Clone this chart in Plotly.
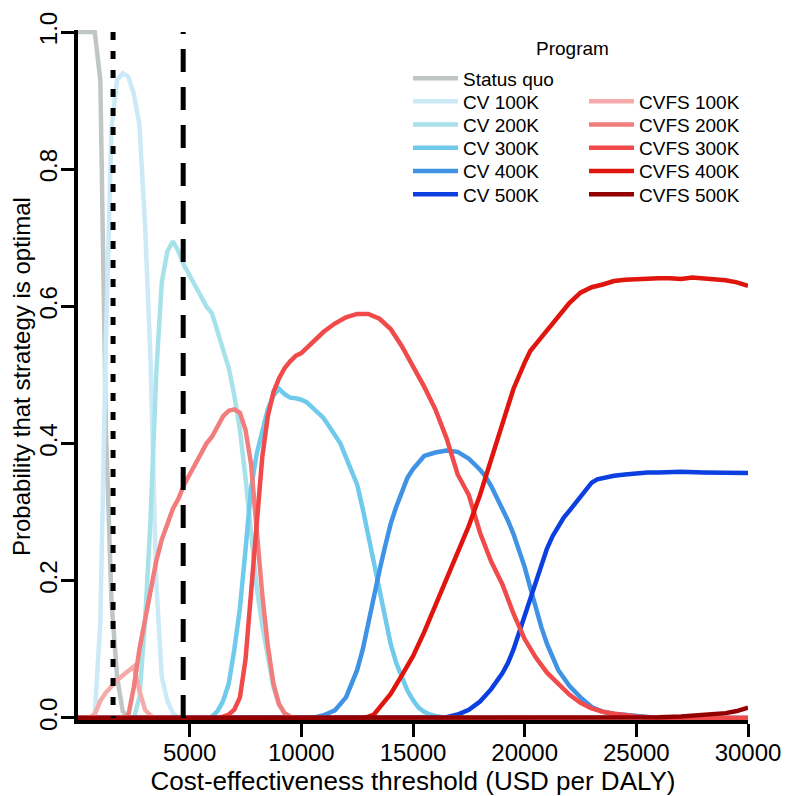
import plotly.graph_objects as go

# ---------------- data ----------------
status_quo_x = [0, 500, 750, 1000, 1250, 1500, 1750, 2000, 2250, 30000]
status_quo_y = [1, 1, 1, 0.93, 0.42, 0.17, 0.06, 0.01, 0, 0]

cv100_x = [0, 500, 750, 1000, 1250, 1500, 1750, 2000, 2250, 2500, 2750, 3000,
           3250, 3500, 3750, 4000, 4250, 4500, 30000]
cv100_y = [0, 0, 0.005, 0.14, 0.55, 0.86, 0.93, 0.94, 0.935, 0.91, 0.865, 0.72,
           0.52, 0.2, 0.06, 0.025, 0.007, 0, 0]

cv200_x = [0, 2500, 2750, 3000, 3250, 3500, 3750, 4000, 4250, 4500, 4750, 5000,
           5250, 5500, 5750, 6000, 6250, 6500, 6750, 7000, 7250, 7500, 7750,
           8000, 8250, 8500, 8750, 9000, 9250, 9500, 9750, 30000]
cv200_y = [0, 0, 0.03, 0.14, 0.29, 0.50, 0.635, 0.68, 0.695, 0.68, 0.66, 0.645,
           0.63, 0.615, 0.60, 0.59, 0.565, 0.54, 0.51, 0.47, 0.42, 0.35, 0.27,
           0.19, 0.135, 0.09, 0.045, 0.02, 0.007, 0.002, 0, 0]

cv300_x = [0, 5750, 6000, 6250, 6500, 6750, 7000, 7250, 7500, 7750, 8000, 8250,
           8500, 8750, 9000, 9250, 9500, 9750, 10000, 10250, 10500, 10750,
           11000, 11250, 11500, 11750, 12000, 12250, 12500, 12750, 13000,
           13250, 13500, 13750, 14000, 14250, 14500, 14750, 15000, 15250,
           15500, 15750, 16000, 16250, 16500, 30000]
cv300_y = [0, 0, 0.002, 0.01, 0.025, 0.05, 0.1, 0.16, 0.245, 0.335, 0.385, 0.42,
           0.45, 0.47, 0.48, 0.472, 0.467, 0.466, 0.464, 0.46, 0.452, 0.445,
           0.437, 0.425, 0.413, 0.40, 0.38, 0.36, 0.34, 0.305, 0.265,
           0.222, 0.182, 0.142, 0.108, 0.08, 0.058, 0.04, 0.026, 0.015,
           0.009, 0.005, 0.003, 0.001, 0, 0]

cv400_x = [0, 10500, 11000, 11500, 12000, 12250, 12500, 12750, 13000, 13250,
           13500, 13750, 14000, 14250, 14500, 14750, 15000, 15500, 16000, 16500,
           17000, 17500, 18000, 18250, 18500, 18750, 19000, 19250, 19500, 19750,
           20000, 20250, 20500, 20750, 21000, 21250, 21500, 22000, 22500, 23000,
           23500, 24000, 25000, 26000, 30000]
cv400_y = [0, 0, 0.004, 0.011, 0.03, 0.048, 0.07, 0.1, 0.14, 0.18,
           0.215, 0.25, 0.283, 0.308, 0.33, 0.35, 0.363, 0.382, 0.387, 0.39,
           0.388, 0.378, 0.362, 0.352, 0.338, 0.322, 0.305, 0.288, 0.268, 0.245,
           0.22, 0.19, 0.16, 0.132, 0.108, 0.088, 0.07, 0.047, 0.03, 0.016,
           0.009, 0.006, 0.003, 0, 0]

cv500_x = [0, 16250, 16500, 17000, 17500, 18000, 18500, 19000, 19250, 19500,
           19750, 20000, 20250, 20500, 20750, 21000, 21250, 21500, 21750, 22000,
           22500, 23000, 23250, 23500, 24000, 24500, 25000, 25500, 26000, 27000,
           28000, 29000, 30000]
cv500_y = [0, 0, 0.001, 0.005, 0.012, 0.024, 0.042, 0.065, 0.08, 0.1,
           0.125, 0.15, 0.175, 0.2, 0.225, 0.247, 0.265, 0.28, 0.292, 0.302,
           0.322, 0.343, 0.348, 0.35, 0.353, 0.355, 0.357, 0.358, 0.358, 0.359,
           0.358, 0.358, 0.357]

cvfs100_x = [0, 500, 750, 1000, 1250, 1500, 1750, 2000, 2250, 2500, 2750, 3000,
             3250, 3500, 30000]
cvfs100_y = [0, 0, 0.005, 0.025, 0.037, 0.047, 0.055, 0.062, 0.068, 0.075, 0.04,
             0.012, 0.003, 0, 0]

cvfs200_x = [0, 2000, 2250, 2500, 2750, 3000, 3250, 3500, 3750, 4000, 4250, 4500,
             4750, 5000, 5250, 5500, 5750, 6000, 6250, 6500, 6750, 7000, 7250,
             7500, 7750, 8000, 8250, 8500, 8750, 9000, 9250, 9500, 9750, 30000]
cvfs200_y = [0, 0, 0.003, 0.045, 0.1, 0.145, 0.19, 0.228, 0.26, 0.285, 0.305, 0.32,
             0.34, 0.355, 0.37, 0.385, 0.40, 0.41, 0.425, 0.44, 0.448, 0.45, 0.445,
             0.42, 0.37, 0.27, 0.18, 0.105, 0.05, 0.02, 0.007, 0.002, 0, 0]

cvfs300_x = [0, 6250, 6500, 6750, 7000, 7250, 7500, 7750, 8000, 8250, 8500, 8750,
             9000, 9250, 9500, 9750, 10000, 10500, 11000, 11500, 12000, 12500,
             13000, 13500, 14000, 14500, 15000, 15500, 16000, 16500, 17000, 17500,
             18000, 18500, 19000, 19500, 20000, 20500, 21000, 21500, 22000, 22500,
             23000, 23500, 24000, 25000, 26000, 30000]
cvfs300_y = [0, 0, 0.002, 0.005, 0.012, 0.03, 0.085, 0.18, 0.29, 0.38, 0.44, 0.475,
             0.495, 0.51, 0.52, 0.528, 0.532, 0.547, 0.563, 0.575, 0.584, 0.589,
             0.589, 0.582, 0.567, 0.542, 0.513, 0.483, 0.45, 0.408, 0.355, 0.325,
             0.27, 0.228, 0.195, 0.152, 0.115, 0.088, 0.066, 0.05, 0.034, 0.022,
             0.014, 0.009, 0.006, 0.002, 0, 0]

cvfs400_x = [0, 12750, 13000, 13250, 13500, 13750, 14000, 14500, 15000, 15500,
             16000, 16500, 17000, 17500, 18000, 18500, 19000, 19500, 20000, 20250,
             20500, 20750, 21000, 21500, 22000, 22500, 23000, 23500, 24000, 24500,
             25000, 25500, 26000, 26500, 27000, 27500, 28000, 28500, 29000, 29500,
             30000]
cvfs400_y = [0, 0, 0.002, 0.005, 0.015, 0.025, 0.035, 0.062, 0.09, 0.125,
             0.163, 0.203, 0.242, 0.28, 0.325, 0.375, 0.428, 0.48, 0.518, 0.535,
             0.545, 0.555, 0.566, 0.585, 0.605, 0.62, 0.628, 0.632, 0.637, 0.639,
             0.64, 0.641, 0.641, 0.641, 0.64, 0.642, 0.641, 0.64, 0.638, 0.635,
             0.63]

cvfs500_x = [0, 25000, 26000, 27000, 28000, 28500, 29000, 29500, 30000]
cvfs500_y = [0, 0, 0.001, 0.002, 0.004, 0.005, 0.007, 0.01, 0.015]

# reference thresholds (1x and 3x GDP per capita)
gdp_threshold_1x = 1570
gdp_threshold_3x = 4710

x_tick_values = [5000, 10000, 15000, 20000, 25000, 30000]
x_tick_labels = ["5000", "10000", "15000", "20000", "25000", "30000"]
y_tick_values = [0, 0.2, 0.4, 0.6, 0.8, 1.0]
y_tick_labels = ["0.0", "0.2", "0.4", "0.6", "0.8", "1.0"]

x_title = "Cost-effectiveness threshold (USD per DALY)"
y_title = "Probability that strategy is optimal"
legend_title = "Program"

# ---------------- figure ----------------
FONT = "Liberation Sans, Arial, Helvetica, sans-serif"

# (name, x, y, colour, legend column, legend row)
series = [
    ("Status quo", status_quo_x, status_quo_y, "#c0c6c6", 0, 0),
    ("CV 100K", cv100_x, cv100_y, "#cbe9f7", 0, 1),
    ("CV 200K", cv200_x, cv200_y, "#a7e2ea", 0, 2),
    ("CV 300K", cv300_x, cv300_y, "#6fcaeb", 0, 3),
    ("CV 400K", cv400_x, cv400_y, "#3f92e4", 0, 4),
    ("CV 500K", cv500_x, cv500_y, "#0c3fe0", 0, 5),
    ("CVFS 100K", cvfs100_x, cvfs100_y, "#f6abab", 1, 1),
    ("CVFS 200K", cvfs200_x, cvfs200_y, "#f17d7d", 1, 2),
    ("CVFS 300K", cvfs300_x, cvfs300_y, "#f14a4a", 1, 3),
    ("CVFS 400K", cvfs400_x, cvfs400_y, "#e0150d", 1, 4),
    ("CVFS 500K", cvfs500_x, cvfs500_y, "#920000", 1, 5),
]

# page is offset by the browser's 8px body margin; figure is sized to fit
FIG_W, FIG_H = 788, 788
M_L, M_R, M_T, M_B = 70, 48, 22, 76
PLOT_W = FIG_W - M_L - M_R
PLOT_H = FIG_H - M_T - M_B
PAGE_OFF = 8

def paper_x(page_px):
    return (page_px - PAGE_OFF - M_L) / PLOT_W

def paper_y(page_py):
    return 1 - (page_py - PAGE_OFF - M_T) / PLOT_H

LEG_COL_LEFT = [408, 584]
LEG_ROW0 = 78.8
LEG_ROW_STEP = 23.2
LEG_TOP_OFFSET = 19.5

fig = go.Figure()
legends = {}
for i, (name, xs, ys, color, col, row) in enumerate(series):
    assert len(xs) == len(ys), name
    key = "legend" if i == 0 else f"legend{i + 1}"
    fig.add_trace(go.Scatter(
        x=xs, y=ys, mode="lines", name=name, legend=key,
        line=dict(color=color, width=4.5),
    ))
    legends[key] = dict(
        x=paper_x(LEG_COL_LEFT[col]),
        y=paper_y(LEG_ROW0 + row * LEG_ROW_STEP - LEG_TOP_OFFSET),
        xanchor="left", yanchor="top",
        bgcolor="rgba(0,0,0,0)", borderwidth=0,
        font=dict(family=FONT, size=19, color="black"),
        itemwidth=45, tracegroupgap=0,
    )

fig.add_trace(go.Scatter(
    x=[gdp_threshold_1x, gdp_threshold_1x], y=[1, 0], mode="lines",
    line=dict(color="black", width=5, dash="8px,11px"), showlegend=False,
))
fig.add_trace(go.Scatter(
    x=[gdp_threshold_3x, gdp_threshold_3x], y=[0, 1], mode="lines",
    line=dict(color="black", width=5, dash="23px,15px"), showlegend=False,
))

axis_common = dict(
    showline=True, linecolor="black", linewidth=4,
    ticks="outside", ticklen=13, tickwidth=3, tickcolor="black",
    showgrid=False, zeroline=False, automargin=False,
    tickfont=dict(family=FONT, size=24, color="black"),
)

fig.update_layout(
    width=FIG_W, height=FIG_H,
    margin=dict(l=M_L, r=M_R, t=M_T, b=M_B),
    paper_bgcolor="white", plot_bgcolor="white",
    font=dict(family=FONT, color="black"),
    xaxis=dict(
        range=[0, 30000], tickvals=x_tick_values, ticktext=x_tick_labels,
        ticklabelstandoff=-5,
        title=dict(text=x_title,
                   font=dict(family=FONT, size=26, color="black"), standoff=2),
        **axis_common,
    ),
    yaxis=dict(
        range=[-0.003, 1.003], tickvals=y_tick_values, ticktext=y_tick_labels,
        tickangle=-90, ticklabelstandoff=-6,
        **axis_common,
    ),
    annotations=[
        dict(
            text=legend_title, xref="paper", yref="paper",
            x=paper_x(572), y=paper_y(49),
            xanchor="center", yanchor="middle", showarrow=False,
            font=dict(family=FONT, size=19, color="black"),
        ),
        dict(
            text=y_title, xref="paper", yref="paper",
            x=paper_x(22), y=paper_y(377), textangle=-90,
            xanchor="center", yanchor="middle", showarrow=False,
            font=dict(family=FONT, size=24, color="black"),
        ),
    ],
    **legends,
)

fig.write_html("out.html")
